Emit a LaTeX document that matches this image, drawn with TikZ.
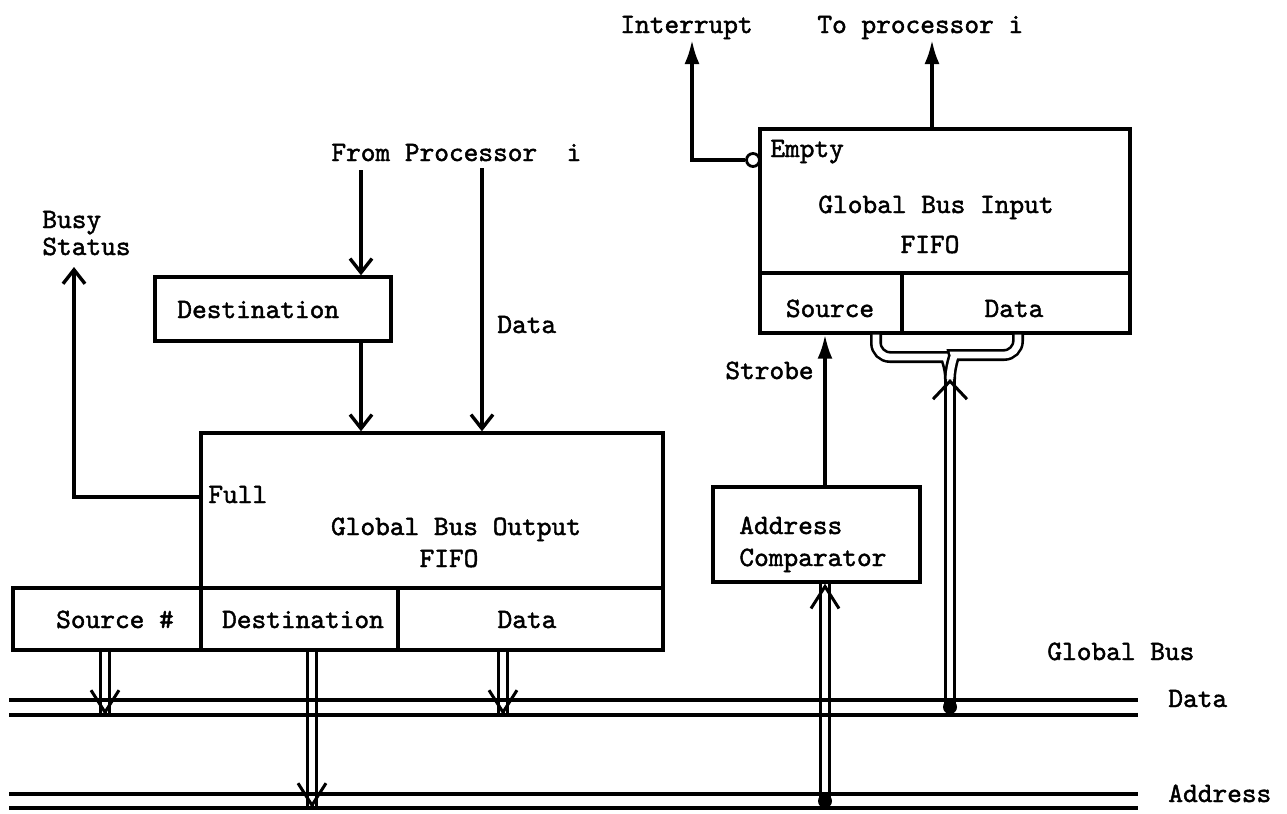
\documentclass[tikz,border=0pt]{standalone}
\usepackage{fontspec}
\newfontfamily\twfont{lmmono10-regular.otf}[FakeBold=1.6]
\usetikzlibrary{arrows.meta,fit,calc}
\begin{document}
\begin{tikzpicture}[x=0.5pt,y=-0.5pt,
  box/.style={draw, line width=1.7pt, inner sep=0pt, rectangle},
  txt/.style={inner sep=0pt, font=\fontsize{14}{16}\selectfont\twfont},
  fa/.style={line width=1.7pt, -{Latex[length=12pt,width=7.5pt]}},
  oa/.style={line width=1.7pt, -{Straight Barb[length=7pt,width=11pt]}},
  dbl/.style={double, line width=1.3pt, double distance=3.4pt},
  dtip/.style={line width=1.5pt, -{Straight Barb[length=11pt,width=14pt]}},
  mtip/.style={line width=1.5pt, -{Straight Barb[length=9pt,width=17pt]}},
  bus/.style={line width=1.6pt},
  dot/.style={circle, fill, inner sep=0pt, minimum size=7pt}]

\fill[white] (0,0) rectangle (1287,809);

% ---------- Global bus input FIFO ----------
\node[box, fit={(760,129) (1130,273)}] (inmain) {};
\node[box, fit={(760,273) (902,333)}] (insrc) {};
\node[box, fit={(902,273) (1130,333)}] (indat) {};
\node[txt, anchor=base west] (empty) at (770,157) {Empty};
\node[txt, anchor=base] (gbi) at (936,213) {Global Bus Input};
\node[txt, anchor=base] (fifoi) at (930,253) {FIFO};
\node[txt, anchor=base] (srci) at (830,317) {Source};
\node[txt, anchor=base] (dati) at (1014,317) {Data};

\node[circle, draw, line width=1.4pt, fill=white, inner sep=0pt, minimum size=6.5pt] (bub) at (753,160) {};
\node[txt, anchor=base west] (intr) at (620,33) {Interrupt};
\node[txt, anchor=base west] (topr) at (817,33) {To processor i};
\coordinate (intrtip) at (692,40);
\coordinate (toprtip) at (932,40);
\draw[fa] (bub.west) -| (intrtip);
\draw[fa] (inmain.north -| toprtip) -- (toprtip);

% ---------- Address comparator and strobe ----------
\node[box, fit={(713,487) (920,582)}] (cmp) {};
\node[txt, anchor=base west] (cmpa) at (739,534) {Address};
\node[txt, anchor=base west] (cmpb) at (739,566) {Comparator};
\coordinate (sx) at (825,0);
\coordinate (cmpin) at (cmp.south -| sx);
\draw[fa] (cmp.north -| sx) -- (insrc.south -| sx);
\node[txt, anchor=base west] (strobe) at (725,379) {Strobe};

% ---------- Global bus output FIFO ----------
\node[box, fit={(201,433) (663,588)}] (outmain) {};
\node[box, fit={(13,588) (201,650)}] (osrc) {};
\node[box, fit={(201,588) (398,650)}] (odst) {};
\node[box, fit={(398,588) (663,650)}] (odat) {};
\node[txt, anchor=base west] (full) at (208,503) {Full};
\node[txt, anchor=base] (gbo) at (456,535) {Global Bus Output};
\node[txt, anchor=base] (fifoo) at (449,567) {FIFO};
\node[txt, anchor=base] (srco) at (115,628) {Source \#};
\node[txt, anchor=base] (dsto) at (303,628) {Destination};
\node[txt, anchor=base] (dato) at (527,628) {Data};

\node[box, fit={(155,277) (391,341)}] (dst) {};
\node[txt, anchor=base west] (dstt) at (177,318) {Destination};
\node[txt, anchor=base west] (fromp) at (331,161) {From Processor\ \ i};
\node[txt, anchor=base west] (datal) at (497,333) {Data};
\coordinate (fpx) at (361,170);
\coordinate (dpx) at (482,168);
\draw[oa] (fpx) -- (dst.north -| fpx);
\draw[oa] (dst.south -| fpx) -- (outmain.north -| fpx);
\draw[oa] (dpx) -- (outmain.north -| dpx);

\node[txt, anchor=base west] (busy) at (42,228) {Busy};
\node[txt, anchor=base west] (status) at (42,255) {Status};
\coordinate (busytip) at (74,267);
\coordinate (fully) at (0,497);
\draw[oa] (outmain.west |- fully) -| (busytip);

% ---------- Bus taps (double lines) ----------
\coordinate (s1) at (105,715);
\coordinate (s2) at (312,808);
\coordinate (s3) at (503,715);
\coordinate (ddotc) at (950,707);
\coordinate (adotc) at (825,801);
\coordinate (merge) at (950,379);
\coordinate (bl) at (876,0);
\coordinate (br) at (1018,0);

\draw[dbl] (osrc.south -| s1) -- (s1);
\draw[dbl] (odst.south -| s2) -- (s2);
\draw[dbl] (odat.south -| s3) -- (s3);
\draw[dbl] (adotc) -- (cmpin);
\draw[dbl] (merge) -- (ddotc);
\draw[dbl, rounded corners=7pt] (insrc.south -| bl) |- (932,357) .. controls (945,357) and (950,366) .. (merge);
\draw[dbl, rounded corners=7pt] (indat.south -| br) |- (968,355) .. controls (955,355) and (950,366) .. (merge);

% ---------- Global bus lines ----------
\draw[bus] (9,700) -- (1138,700);
\draw[bus] (9,715) -- (1138,715);
\draw[bus] (9,794) -- (1138,794);
\draw[bus] (9,808) -- (1138,808);
\node[txt, anchor=base west] (gbl) at (1047,660) {Global Bus};
\node[txt, anchor=base west] (gbd) at (1168,707) {Data};
\node[txt, anchor=base west] (gba) at (1168,802) {Address};

\node[dot] (ddot) at (ddotc) {};
\node[dot] (adot) at (adotc) {};

\draw[dtip] ([yshift=1pt]s1) -- (s1);
\draw[dtip] ([yshift=1pt]s2) -- (s2);
\draw[dtip] ([yshift=1pt]s3) -- (s3);
\draw[dtip] ([yshift=-1pt]cmpin) -- (cmpin);
\draw[mtip] ([yshift=-1pt]merge) -- (merge);

\end{tikzpicture}
\end{document}
